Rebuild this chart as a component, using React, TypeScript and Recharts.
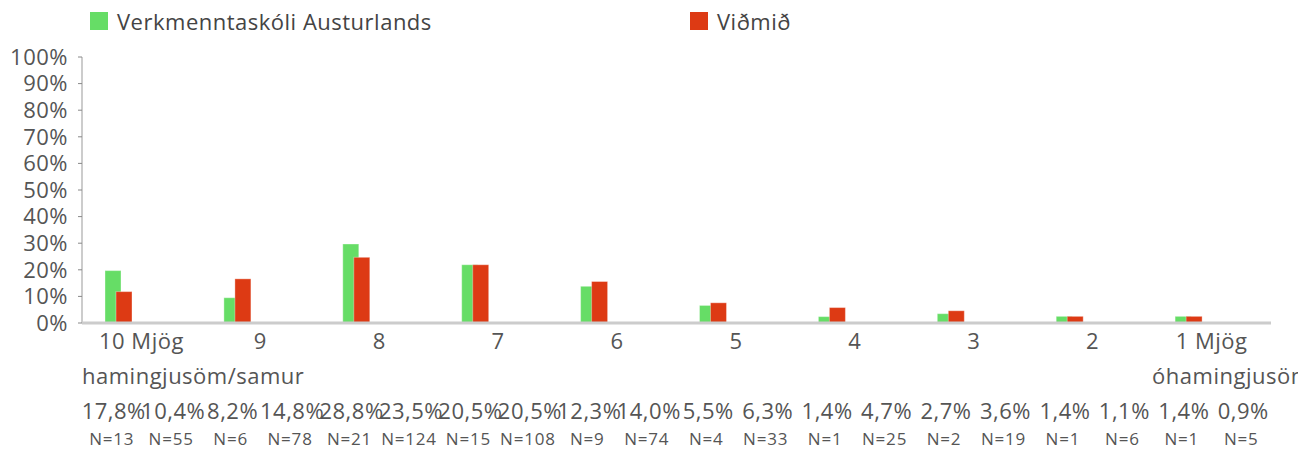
import { BarChart, Bar, XAxis, YAxis } from 'recharts'

const categories = ['10 Mjög\nhamingjusöm/samur', '9', '8', '7', '6', '5', '4', '3', '2', '1 Mjög\nóhamingjusöm/samur']
// bar heights as drawn in the picture
const schoolValues = [19.7, 9.5, 29.7, 21.9, 13.8, 6.6, 2.4, 3.5, 2.5, 2.5]
const normValues = [11.8, 16.6, 24.7, 21.9, 15.6, 7.6, 5.8, 4.6, 2.5, 2.5]
// table rows under the axis
const schoolPct = ['17,8%', '8,2%', '28,8%', '20,5%', '12,3%', '5,5%', '1,4%', '2,7%', '1,4%', '1,4%']
const normPct = ['10,4%', '14,8%', '23,5%', '20,5%', '14,0%', '6,3%', '4,7%', '3,6%', '1,1%', '0,9%']
const schoolN = [13, 6, 21, 15, 9, 4, 1, 2, 1, 1]
const normN = [55, 78, 124, 108, 74, 33, 25, 19, 6, 5]
const yTicks = [0, 10, 20, 30, 40, 50, 60, 70, 80, 90, 100]

const seriesNames = ['Verkmenntaskóli Austurlands', 'Viðmið']
const GREEN = '#66dd66'
const RED = '#dd3a14'
const TEXT = '#555555'
const FONT = '"Open Sans", sans-serif'

const W = 1298
const H = 450
const PLOT_LEFT = 82
const PLOT_RIGHT = 1271
const BAND = (PLOT_RIGHT - PLOT_LEFT) / categories.length
const BAR_SHIFT = -23

const data = categories.map((c, i) => ({
  name: c,
  school: schoolValues[i],
  norm: normValues[i],
}))

function ShiftedBar(props: any) {
  const { x, y, width, height, fill } = props
  if (!height) return null
  return (
    <rect
      x={x + BAR_SHIFT}
      y={y}
      width={width}
      height={height}
      fill={fill}
      stroke="rgba(255,255,255,0.35)"
      strokeWidth={1}
    />
  )
}

function CategoryTick(props: any) {
  const { x, y, payload, index } = props
  const lines = String(payload.value).split('\n')
  const txt = { fontFamily: FONT, fill: TEXT, letterSpacing: 0.5 }
  return (
    <g>
      <text x={x} y={y + 26} textAnchor="middle" fontSize={22} {...txt}>{lines[0]}</text>
      {lines[1] && (
        <text x={x - BAND / 2} y={y + 61} textAnchor="start" fontSize={22} {...txt}>{lines[1]}</text>
      )}
      <text x={x - BAND / 4 + 2} y={y + 96} textAnchor="middle" fontSize={22} {...txt}>{schoolPct[index]}</text>
      <text x={x + BAND / 4 + 2} y={y + 96} textAnchor="middle" fontSize={22} {...txt}>{normPct[index]}</text>
      <text x={x - BAND / 4} y={y + 122} textAnchor="middle" fontSize={17} {...txt} letterSpacing={0.8}>N={schoolN[index]}</text>
      <text x={x + BAND / 4} y={y + 122} textAnchor="middle" fontSize={17} {...txt} letterSpacing={0.8}>N={normN[index]}</text>
    </g>
  )
}

function LegendBox() {
  const items = [
    { name: seriesNames[0], color: GREEN, left: 90 },
    { name: seriesNames[1], color: RED, left: 690 },
  ]
  return (
    <div style={{ position: 'absolute', left: 0, top: 0, width: W, height: 40, pointerEvents: 'none' }}>
      {items.map((it) => (
        <div key={it.name} style={{ position: 'absolute', left: it.left, top: 9, display: 'flex', alignItems: 'center', gap: '9px' }}>
          <span style={{ width: 18, height: 18, backgroundColor: it.color, display: 'inline-block' }}></span>
          <span style={{ fontFamily: FONT, fontSize: 22, color: '#444', lineHeight: '24px', letterSpacing: '0.5px' }}>{it.name}</span>
        </div>
      ))}
    </div>
  )
}

export default function App() {
  return (
    <div style={{ position: 'absolute', left: 0, top: 0, width: W, height: H, background: '#fff', overflow: 'hidden' }}>
      <BarChart
        width={W}
        height={H}
        data={data}
        margin={{ top: 57, right: W - PLOT_RIGHT, bottom: 0, left: 6 }}
        barGap={-5}
      >
        <YAxis
          width={PLOT_LEFT - 6}
          domain={[0, 100]}
          ticks={yTicks}
          interval={0}
          tickFormatter={(v: number) => `${v}%`}
          tick={{ fontFamily: FONT, fontSize: 22, fill: TEXT, letterSpacing: 0.5 }}
          tickSize={4}
          tickMargin={10}
          axisLine={{ stroke: '#cccccc', strokeWidth: 2 }}
          tickLine={{ stroke: '#888888' }}
        />
        <XAxis
          dataKey="name"
          height={H - 323}
          interval={0}
          tickLine={false}
          tickSize={0}
          tickMargin={0}
          axisLine={{ stroke: '#cccccc', strokeWidth: 3 }}
          tick={<CategoryTick />}
        />
        <Bar dataKey="school" name={seriesNames[0]} fill={GREEN} barSize={16} shape={<ShiftedBar />} isAnimationActive={false} />
        <Bar dataKey="norm" name={seriesNames[1]} fill={RED} barSize={16} shape={<ShiftedBar />} isAnimationActive={false} />
      </BarChart>
      <LegendBox />
    </div>
  )
}
